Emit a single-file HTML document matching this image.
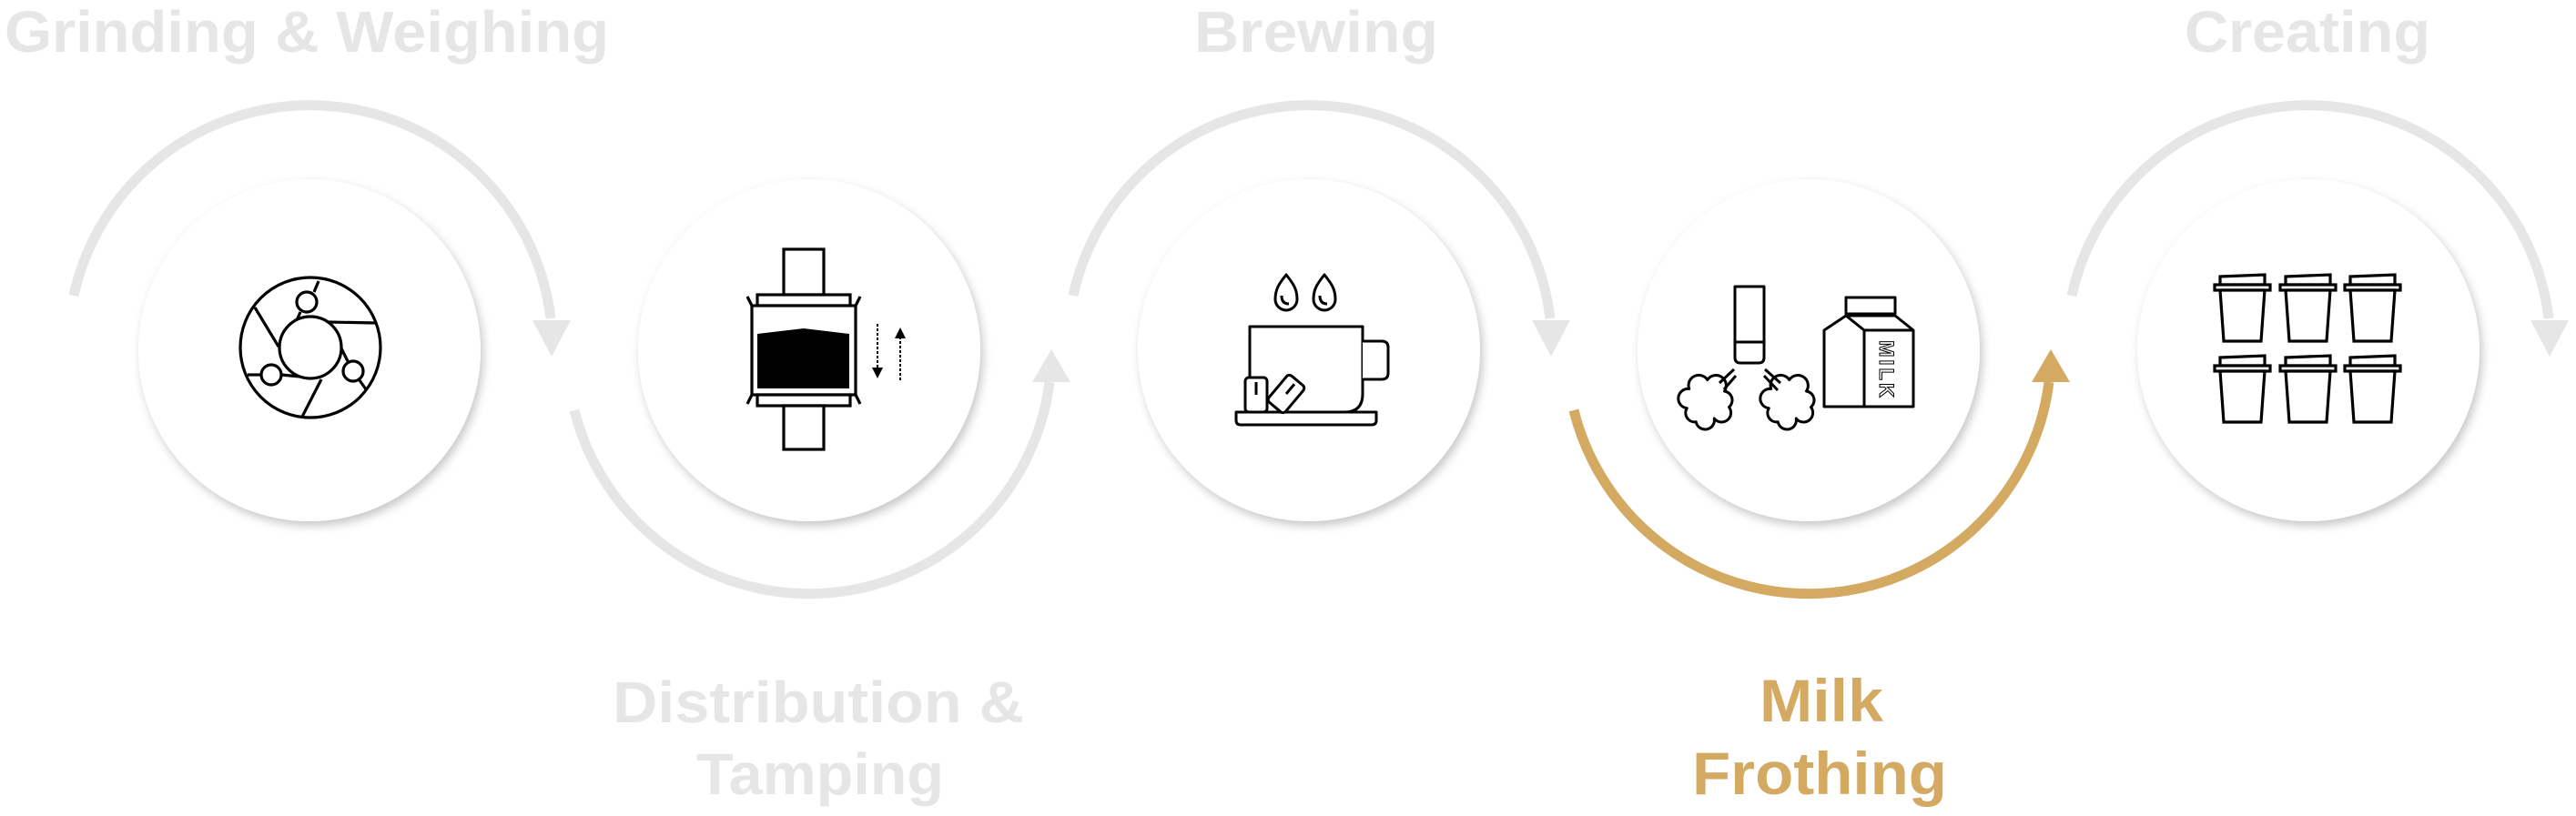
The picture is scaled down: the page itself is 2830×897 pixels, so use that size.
<!DOCTYPE html>
<html><head><meta charset="utf-8"><style>
html,body{margin:0;padding:0;background:#fff;}
svg{display:block;}
text{font-family:"Liberation Sans",sans-serif;font-weight:bold;}
</style></head><body>
<svg width="2830" height="897" viewBox="0 0 2830 897" xmlns="http://www.w3.org/2000/svg">
<defs>
<filter id="sh" x="-20%" y="-20%" width="140%" height="140%">
<feDropShadow dx="3" dy="5" stdDeviation="5" flood-color="#000" flood-opacity="0.22"/>
</filter>
<g id="cup" fill="#fff" stroke="#000" stroke-width="3.2" stroke-linejoin="miter">
<polygon points="6,2 55,0 55,11 6,11"/>
<rect x="0" y="11" width="61" height="6"/>
<polygon points="6,17 55,17 51,73 10,73"/>
</g>
</defs>

<text x="337" y="57" font-size="64" fill="#e6e6e6" text-anchor="middle" textLength="664" lengthAdjust="spacingAndGlyphs">Grinding &amp; Weighing</text>
<text x="1446" y="57" font-size="64" fill="#e6e6e6" text-anchor="middle" textLength="268" lengthAdjust="spacingAndGlyphs">Brewing</text>
<text x="2535" y="57" font-size="64" fill="#e6e6e6" text-anchor="middle" textLength="270" lengthAdjust="spacingAndGlyphs">Creating</text>
<text x="899" y="794" font-size="64" fill="#e6e6e6" text-anchor="middle" textLength="452" lengthAdjust="spacingAndGlyphs">Distribution &amp;</text>
<text x="901" y="873" font-size="64" fill="#e6e6e6" text-anchor="middle" textLength="272" lengthAdjust="spacingAndGlyphs">Tamping</text>
<text x="2001" y="793" font-size="66" fill="#d4aa63" text-anchor="middle" textLength="136" lengthAdjust="spacingAndGlyphs">Milk</text>
<text x="1999" y="873" font-size="66" fill="#d4aa63" text-anchor="middle" textLength="280" lengthAdjust="spacingAndGlyphs">Frothing</text>

<g fill="none" stroke-width="11">
<path d="M81 325 A266 266 0 0 1 605 350" stroke="#e6e6e6"/>
<path d="M1179 325 A266 266 0 0 1 1703 350" stroke="#e6e6e6"/>
<path d="M2276 325 A266 266 0 0 1 2800 350" stroke="#e6e6e6"/>
<path d="M631 451 A266 266 0 0 0 1153 420" stroke="#e6e6e6"/>
<path d="M1729 451 A266 266 0 0 0 2251 420" stroke="#d4aa63"/>
</g>
<g>
<polygon points="585,352 627,352 606,392" fill="#e6e6e6"/>
<polygon points="1683,352 1725,352 1704,392" fill="#e6e6e6"/>
<polygon points="2780,352 2822,352 2801,392" fill="#e6e6e6"/>
<polygon points="1134,420 1176,420 1155,384" fill="#e6e6e6"/>
<polygon points="2232,420 2274,420 2253,384" fill="#d4aa63"/>
</g>

<g fill="#fff" filter="url(#sh)">
<circle cx="340" cy="385" r="188"/>
<circle cx="889" cy="385" r="188"/>
<circle cx="1438" cy="385" r="188"/>
<circle cx="1987" cy="385" r="188"/>
<circle cx="2536" cy="385" r="188"/>
</g>

<g fill="#fff" stroke="#000" stroke-width="3.2">
<circle cx="341" cy="382" r="77"/>
<line x1="350" y1="309" x2="345" y2="321"/>
<line x1="330" y1="343" x2="326" y2="352"/>
<line x1="360" y1="354" x2="412" y2="355"/>
<line x1="280" y1="338" x2="306" y2="381"/>
<line x1="272" y1="412" x2="287" y2="412"/>
<line x1="309" y1="412" x2="330" y2="414"/>
<line x1="353" y1="417" x2="332" y2="458"/>
<line x1="375" y1="383" x2="382" y2="397"/>
<line x1="395" y1="418" x2="402" y2="428"/>
<circle cx="341" cy="382" r="34"/>
<circle cx="337" cy="332" r="11"/>
<circle cx="298" cy="412" r="11"/>
<circle cx="388" cy="408" r="11"/>
</g>

<g fill="#fff" stroke="#000" stroke-width="3.2">
<rect x="861" y="274" width="44" height="50"/>
<rect x="832" y="324" width="102" height="12"/>
<rect x="826" y="336" width="114" height="98"/>
<rect x="832" y="434" width="102" height="12"/>
<rect x="861" y="446" width="44" height="48"/>
<line x1="826" y1="336" x2="821" y2="326"/>
<line x1="940" y1="336" x2="945" y2="326"/>
<line x1="826" y1="434" x2="821" y2="444"/>
<line x1="940" y1="434" x2="945" y2="444"/>
</g>
<polygon points="832,367 883,361 933,367 933,427 832,427" fill="#000"/>
<g stroke="#000" stroke-width="2" stroke-dasharray="3,2">
<line x1="964" y1="356" x2="964" y2="406"/>
<line x1="989" y1="370" x2="989" y2="420"/>
</g>
<polygon points="958,404 970,404 964,416" fill="#000"/>
<polygon points="983,372 995,372 989,360" fill="#000"/>

<g fill="#fff" stroke="#000" stroke-width="3" stroke-linejoin="round">
<path d="M1373 359 H1497 V433 Q1497 453 1477 453 H1373 Z"/>
<path d="M1497 375 H1518 Q1525 375 1525 382 V410 Q1525 417 1518 417 H1497"/>
<path d="M1358 453 H1512 V462 Q1512 467 1507 467 H1363 Q1358 467 1358 462 Z"/>
<path d="M1413 302 C1405 312 1401 318 1401 329 A12 12 0 0 0 1425 329 C1425 318 1421 312 1413 302 Z"/>
<path d="M1455 302 C1447 312 1443 318 1443 329 A12 12 0 0 0 1467 329 C1467 318 1463 312 1455 302 Z"/>
<path d="M1408 325 Q1408 334 1416 334" fill="none"/>
<path d="M1450 325 Q1450 334 1458 334" fill="none"/>
<rect x="1368" y="415" width="24" height="38" rx="4"/>
<line x1="1380" y1="420" x2="1380" y2="434"/>
<g transform="rotate(40 1413 433)"><rect x="1401" y="414" width="24" height="38" rx="4"/><line x1="1413" y1="419" x2="1413" y2="433"/></g>
</g>

<g fill="#fff" stroke="#000" stroke-width="3" stroke-linejoin="round">
<g transform="translate(1877 440) scale(1.25) translate(-1879 -436)" stroke-width="2.4">
<path d="M1862 426 A9 9 0 0 1 1878 418 A9 9 0 0 1 1893 428 A8 8 0 0 1 1897 442 A8 8 0 0 1 1884 452 A8 8 0 0 1 1868 455 A8 8 0 0 1 1860 443 A8 8 0 0 1 1862 426 Z"/>
</g>
<g transform="translate(1967 440) scale(1.25) translate(-1966 -436)" stroke-width="2.4">
<path d="M1949 426 A9 9 0 0 1 1965 418 A9 9 0 0 1 1980 428 A8 8 0 0 1 1984 442 A8 8 0 0 1 1971 452 A8 8 0 0 1 1955 455 A8 8 0 0 1 1947 443 A8 8 0 0 1 1949 426 Z"/>
</g>
<path d="M1906 315 H1938 V393 Q1938 399 1932 399 H1912 Q1906 399 1906 393 Z"/>
<line x1="1906" y1="376" x2="1938" y2="376"/>
<line x1="1905" y1="406" x2="1889" y2="421"/>
<line x1="1907" y1="413" x2="1894" y2="428"/>
<line x1="1939" y1="406" x2="1956" y2="421"/>
<line x1="1938" y1="413" x2="1953" y2="429"/>
<rect x="2028" y="327" width="54" height="18"/>
<path d="M2004 363 L2028 347 H2082 L2102 363 V447 H2004 Z"/>
<path d="M2028 347 L2048 363 H2102" fill="none"/>
<line x1="2048" y1="363" x2="2048" y2="447"/>
</g>
<text x="2073" y="407" font-size="22" fill="#fff" stroke="#000" stroke-width="1" text-anchor="middle" transform="rotate(90 2073 407)" dy="8" font-family="Liberation Mono,monospace" letter-spacing="3">MILK</text>

<use href="#cup" x="2433" y="302"/>
<use href="#cup" x="2505" y="302"/>
<use href="#cup" x="2576" y="302"/>
<use href="#cup" x="2433" y="391"/>
<use href="#cup" x="2505" y="391"/>
<use href="#cup" x="2576" y="391"/>
</svg>
</body></html>
